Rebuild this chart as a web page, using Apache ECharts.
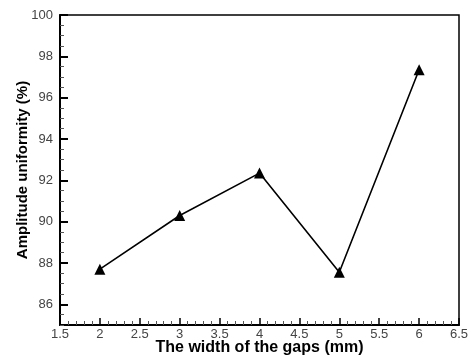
<!DOCTYPE html>
<html>
<head>
<meta charset="utf-8">
<script src="https://cdn.jsdelivr.net/npm/echarts@6/dist/echarts.min.js"></script>
<style>
  html, body { margin: 0; padding: 0; background: #fff; }
  #main { width: 471px; height: 356px; }
</style>
</head>
<body>
<div id="main"></div>
<script>
// 数据
var gapWidth = [2, 3, 4, 5, 6];
var amplitude = [87.7, 90.3, 92.35, 87.55, 97.35];
var yTickValues = [86, 88, 90, 92, 94, 96, 98, 100];

var myChart = echarts.init(document.getElementById('main'));

var labelFont = { fontFamily: 'Liberation Sans', fontSize: 13, color: '#444' };

var option = {
    backgroundColor: '#fff',
    animation: false,
    grid: {
        left: 60, right: 12, top: 15, bottom: 31,
        outerBoundsMode: 'none',
        show: true, borderColor: '#000', borderWidth: 1.5
    },
    xAxis: {
        type: 'value',
        min: 1.5, max: 6.5, interval: 0.5,
        name: 'The width of the gaps (mm)',
        nameLocation: 'middle', nameGap: 15,
        nameMoveOverlap: false,
        nameTextStyle: { fontFamily: 'Liberation Sans', fontSize: 16, fontWeight: 'bold', color: '#000', verticalAlign: 'top', lineHeight: 16 },
        axisLine: { lineStyle: { color: '#000', width: 2 } },
        axisTick: { inside: true, length: 7, lineStyle: { color: '#000', width: 1.5 } },
        minorTick: { show: true, splitNumber: 5, length: 4, lineStyle: { color: '#555' } },
        axisLabel: Object.assign({ margin: 3 }, labelFont),
        splitLine: { show: false }
    },
    yAxis: [{
        // 小刻度
        type: 'value',
        min: 85, max: 100, interval: 0.5,
        axisLine: { show: true, lineStyle: { color: '#000', width: 2 } },
        axisTick: { inside: true, length: 4, lineStyle: { color: '#555' } },
        axisLabel: { show: false },
        splitLine: { show: false }
    }, {
        // 大刻度和标签
        type: 'value',
        position: 'left',
        min: 85, max: 100,
        name: 'Amplitude uniformity (%)',
        nameLocation: 'middle', nameGap: 30,
        nameMoveOverlap: false,
        nameTextStyle: { fontFamily: 'Liberation Sans', fontSize: 15, fontWeight: 'bold', color: '#000' },
        axisLine: { show: false },
        axisTick: { show: true, inside: true, length: 8, customValues: yTickValues, lineStyle: { color: '#000', width: 2 } },
        axisLabel: Object.assign({ margin: 7, customValues: yTickValues }, labelFont),
        splitLine: { show: false }
    }],
    series: [{
        type: 'line',
        yAxisIndex: 0,
        data: gapWidth.map(function (x, i) { return [x, amplitude[i]]; }),
        symbol: 'triangle',
        symbolSize: 11,
        itemStyle: { color: '#000' },
        lineStyle: { color: '#000', width: 1.6 }
    }]
};
myChart.setOption(option);
</script>
</body>
</html>
